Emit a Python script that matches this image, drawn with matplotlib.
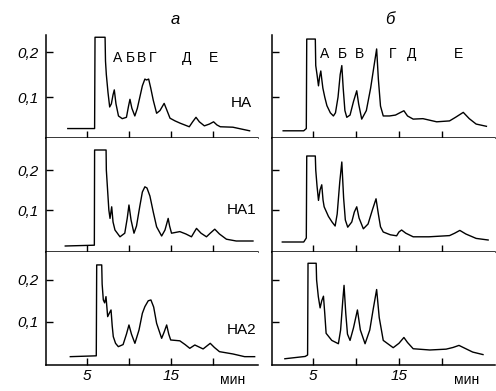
import matplotlib

matplotlib.use("Agg")
import matplotlib.pyplot as plt

# chromatograms: time (min), absorbance
a_na_t = [2.7, 5.9, 5.95, 7.15, 7.2, 7.3, 7.5, 7.7, 7.9, 8.1, 8.25, 8.45, 8.75, 9.2, 9.7,
          9.95, 10.12, 10.35, 10.7, 11.0, 11.3, 11.6, 11.9, 12.1, 12.35, 12.6, 12.9, 13.3,
          13.7, 14.2, 14.5, 14.9, 15.5, 16.1, 17.2, 17.6, 18.0, 18.4, 19.0, 19.6, 20.1,
          20.5, 20.9, 22.4, 24.4]
a_na_v = [0.030, 0.030, 0.233, 0.233, 0.18, 0.15, 0.11, 0.078, 0.085, 0.105, 0.116, 0.085,
          0.058, 0.052, 0.055, 0.080, 0.095, 0.075, 0.058, 0.075, 0.100, 0.125, 0.140,
          0.138, 0.140, 0.120, 0.093, 0.064, 0.070, 0.086, 0.072, 0.053, 0.047, 0.042,
          0.034, 0.045, 0.055, 0.045, 0.036, 0.040, 0.045, 0.038, 0.034, 0.033, 0.025]

b_na_t = [1.5, 3.9, 4.2, 4.25, 5.25, 5.3, 5.45, 5.62, 5.75, 5.89, 6.0, 6.13, 6.35, 6.6, 7.0,
          7.36, 7.6, 7.9, 8.15, 8.34, 8.5, 8.7, 8.92, 9.3, 9.7, 10.08, 10.3, 10.66, 11.2,
          11.7, 12.1, 12.4, 12.6, 12.85, 13.17, 13.9, 14.6, 15.1, 15.58, 16.0, 16.66, 17.8,
          19.4, 20.9, 21.6, 22.5, 23.2, 24.0, 25.2]
b_na_v = [0.025, 0.025, 0.030, 0.229, 0.229, 0.17, 0.15, 0.125, 0.145, 0.158, 0.14, 0.12,
          0.10, 0.081, 0.065, 0.058, 0.065, 0.10, 0.15, 0.17, 0.12, 0.07, 0.055, 0.06, 0.09,
          0.114, 0.085, 0.051, 0.07, 0.12, 0.17, 0.207, 0.14, 0.08, 0.058, 0.058, 0.06,
          0.065, 0.0696, 0.058, 0.051, 0.052, 0.045, 0.047, 0.055, 0.066, 0.052, 0.040, 0.035]

a_na1_t = [2.4, 5.87, 5.9, 7.27, 7.3, 7.45, 7.6, 7.74, 7.94, 8.1, 8.33, 8.93, 9.5, 9.8, 10.0,
           10.25, 10.6, 10.9, 11.3, 11.6, 11.9, 12.15, 12.5, 12.9, 13.3, 13.9, 14.3, 14.68,
           14.85, 15.08, 16.07, 16.8, 17.46, 17.8, 18.06, 18.6, 19.25, 19.7, 20.24, 20.8,
           21.63, 22.8, 24.8]
a_na1_v = [0.010, 0.012, 0.25, 0.25, 0.20, 0.15, 0.10, 0.079, 0.108, 0.07, 0.05, 0.033,
           0.042, 0.08, 0.1125, 0.075, 0.042, 0.06, 0.11, 0.145, 0.158, 0.155, 0.135, 0.095,
           0.058, 0.035, 0.05, 0.079, 0.06, 0.042, 0.046, 0.04, 0.033, 0.045, 0.054, 0.042,
           0.033, 0.042, 0.052, 0.04, 0.027, 0.0225, 0.0225]

b_na1_t = [1.4, 3.9, 4.2, 4.25, 5.25, 5.3, 5.45, 5.62, 5.8, 6.0, 6.15, 6.28, 6.78, 7.2, 7.56,
           7.8, 8.1, 8.34, 8.55, 8.75, 9.03, 9.5, 9.8, 10.08, 10.35, 10.85, 11.4, 11.9, 12.33,
           12.6, 12.85, 13.17, 14.0, 14.73, 15.0, 15.31, 15.8, 16.66, 18.5, 20.9, 21.5, 22.1,
           22.8, 24.0, 25.4]
b_na1_v = [0.020, 0.020, 0.030, 0.235, 0.235, 0.20, 0.16, 0.124, 0.15, 0.163, 0.125, 0.108,
           0.084, 0.07, 0.06, 0.09, 0.17, 0.22, 0.13, 0.075, 0.057, 0.07, 0.095, 0.108, 0.08,
           0.053, 0.065, 0.10, 0.128, 0.09, 0.058, 0.045, 0.038, 0.0355, 0.045, 0.05, 0.042,
           0.033, 0.033, 0.036, 0.042, 0.049, 0.04, 0.029, 0.025]

a_na2_t = [3.0, 6.1, 6.15, 6.75, 6.8, 6.94, 7.1, 7.26, 7.46, 7.65, 7.86, 8.0, 8.13, 8.4, 8.73,
           9.3, 9.7, 10.0, 10.3, 10.71, 11.2, 11.6, 11.9, 12.3, 12.62, 12.95, 13.3, 13.9,
           14.2, 14.5, 14.75, 14.98, 16.07, 16.7, 17.26, 17.86, 18.85, 19.7, 20.2, 20.8, 22.4,
           23.8, 25.0]
a_na2_v = [0.016, 0.018, 0.236, 0.236, 0.19, 0.152, 0.145, 0.16, 0.112, 0.12, 0.128, 0.09,
           0.064, 0.048, 0.04, 0.045, 0.07, 0.092, 0.07, 0.048, 0.08, 0.12, 0.136, 0.15,
           0.152, 0.135, 0.096, 0.06, 0.075, 0.092, 0.07, 0.056, 0.054, 0.045, 0.036, 0.044,
           0.0345, 0.048, 0.038, 0.028, 0.0225, 0.016, 0.016]

b_na2_t = [1.7, 4.07, 4.35, 4.4, 5.35, 5.4, 5.6, 5.81, 6.0, 6.2, 6.35, 6.51, 7.17, 7.94, 8.2,
           8.45, 8.6, 8.8, 9.0, 9.3, 9.7, 10.16, 10.5, 11.05, 11.6, 12.0, 12.4, 12.7, 13.17,
           14.33, 15.0, 15.58, 16.0, 16.66, 18.6, 20.5, 21.3, 22.0, 22.8, 23.6, 24.8]
b_na2_v = [0.011, 0.0165, 0.02, 0.24, 0.24, 0.20, 0.16, 0.133, 0.15, 0.161, 0.12, 0.072,
           0.055, 0.047, 0.08, 0.15, 0.187, 0.12, 0.07, 0.055, 0.085, 0.128, 0.08, 0.047,
           0.08, 0.13, 0.177, 0.11, 0.055, 0.0375, 0.048, 0.062, 0.05, 0.035, 0.032, 0.034,
           0.038, 0.043, 0.035, 0.027, 0.021]

sample_names = ["НА", "НА1", "НА2"]
peak_letters = ["А", "Б", "В", "Г", "Д", "Е"]
peak_pos_a = [8.6, 10.2, 11.5, 12.8, 16.9, 20.1]
peak_pos_b = [6.3, 8.4, 10.35, 14.3, 16.5, 21.9]

W, H = 496, 391
FONT = ["Liberation Sans", "DejaVu Sans"]

fig = plt.figure(figsize=(W / 100, H / 100), dpi=100)

cols = [(46, 258), (272, 495)]
rows = [(35, 138), (138, 252), (252, 365)]
ylims = [(0.009, 0.238), (-0.005, 0.28), (-0.004, 0.267)]
xlims = [(0.1, 25.4), (0.2, 26.2)]

traces = [
    [(a_na_t, a_na_v), (b_na_t, b_na_v)],
    [(a_na1_t, a_na1_v), (b_na1_t, b_na1_v)],
    [(a_na2_t, a_na2_v), (b_na2_t, b_na2_v)],
]

axes = [[None, None] for _ in rows]
for r, (top, bot) in enumerate(rows):
    for c, (left, right) in enumerate(cols):
        ax = fig.add_axes([left / W, 1 - bot / H, (right - left) / W, (bot - top) / H])
        t, v = traces[r][c]
        ax.plot(t, v, color="black", lw=1.0)
        ax.set_xlim(*xlims[c])
        ax.set_ylim(*ylims[r])
        for side in ("top", "right"):
            ax.spines[side].set_visible(False)
        for side in ("left", "bottom"):
            ax.spines[side].set_linewidth(1.1)
        ax.set_xticks([5, 10, 15, 20])
        ax.set_yticks([0.1, 0.2])
        ax.tick_params(direction="in", length=5, width=1.0, colors="black")
        ax.tick_params(axis="x", pad=3)
        ax.tick_params(axis="y", pad=5)
        if c == 0:
            ax.set_yticklabels(["0,1", "0,2"], fontstyle="italic", fontsize=11,
                               family=FONT)
        else:
            ax.set_yticklabels([])
        if r == 2:
            ax.set_xticklabels(["5", "", "15", ""], fontstyle="italic", fontsize=11,
                               family=FONT)
            ax.text(22.4 if c == 0 else 22.9, -0.13, "мин", ha="center", va="center",
                    fontsize=10, family=FONT, transform=ax.get_xaxis_transform())
        else:
            ax.set_xticklabels([])
        axes[r][c] = ax

for name, ax, y in zip(sample_names, [axes[0][0], axes[1][0], axes[2][0]],
                       [0.087, 0.1, 0.08]):
    ax.text(23.4, y, name, ha="center", va="center", fontsize=11, family=FONT)

for letter, xa, xb in zip(peak_letters, peak_pos_a, peak_pos_b):
    axes[0][0].text(xa, 0.186, letter, ha="center", va="center", fontsize=10, family=FONT)
    axes[0][1].text(xb, 0.195, letter, ha="center", va="center", fontsize=10, family=FONT)

fig.text(175 / W, 1 - 20 / H, "а", ha="center", va="center", fontsize=12,
         fontstyle="italic", family=FONT)
fig.text(390 / W, 1 - 20 / H, "б", ha="center", va="center", fontsize=12,
         fontstyle="italic", family=FONT)

fig.savefig("out.png", dpi=100)
